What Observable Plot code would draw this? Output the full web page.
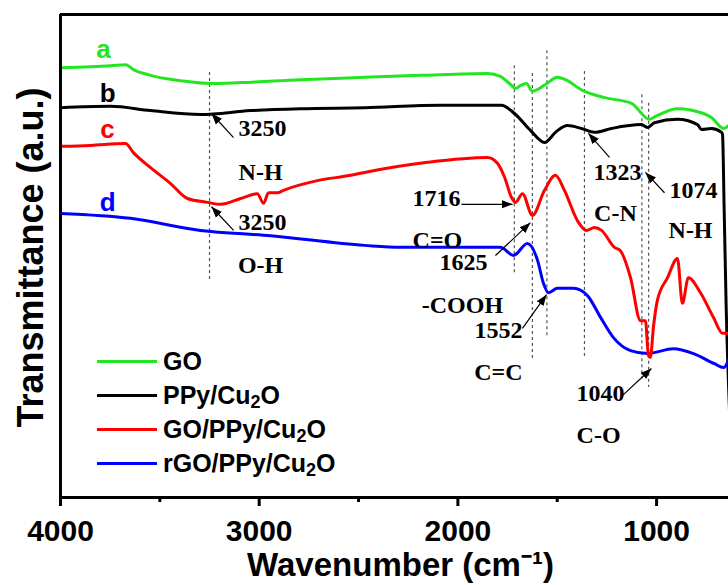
<!DOCTYPE html>
<html><head><meta charset="utf-8">
<script src="https://cdn.jsdelivr.net/npm/d3@7"></script>
<script src="https://cdn.jsdelivr.net/npm/@observablehq/plot@0.6"></script>
<style>
body{margin:0;background:#fff;}
#wrap{position:relative;width:728px;height:585px;}
#legend{position:absolute;left:97px;top:344px;font-family:"Liberation Sans",Arial,sans-serif;font-weight:bold;font-size:25px;color:#000;}
.row{display:flex;align-items:center;height:34px;white-space:nowrap;}
.sw{width:60px;height:3px;margin-right:6px;}
sub{font-size:0.72em;vertical-align:-0.22em;line-height:0;}
</style></head><body><div id="wrap"></div>
<script>
// ---- data (wavenumber cm^-1, transmittance a.u.) ----
const seriesNames = ["GO", "PPy/Cu2O", "GO/PPy/Cu2O", "rGO/PPy/Cu2O"];
const seriesLetters = ["a", "b", "c", "d"];

const specGO = [
  [4000,89.0],[3849,89.2],[3748,89.4],[3673,89.6],[3633,88.6],[3547,87.4],[3396,86.3],[3245,85.7],
  [3094,85.9],[2792,86.5],[2470,87.0],[2188,87.4],[1851,87.8],[1786,87.2],[1735,85.5],[1710,84.7],
  [1685,85.3],[1655,85.7],[1625,84.1],[1559,85.5],[1499,87.0],[1459,86.5],[1373,84.3],[1262,82.8],
  [1126,81.6],[1036,78.3],[996,79.1],[895,80.5],[764,79.5],[724,78.7],[663,76.4],[638,77.0]
];
const specPPy = [
  [4000,80.7],[3748,81.0],[3547,80.1],[3295,79.3],[3044,80.1],[2792,80.5],[2470,80.7],[2088,81.2],
  [1781,81.2],[1715,79.5],[1635,76.0],[1564,73.5],[1504,75.8],[1448,77.0],[1378,76.4],[1313,75.6],
  [1227,76.4],[1076,77.2],[1046,76.6],[1011,77.6],[895,78.3],[794,77.2],[774,76.2],[724,76.4],
  [673,75.6],[668,75.2],[660,60.0],[650,40.0],[630,15.0]
];
const specGOPPy = [
  [4000,72.7],[3849,72.9],[3673,73.3],[3633,71.4],[3547,68.3],[3446,65.0],[3361,61.9],[3260,61.1],
  [3195,60.7],[3094,61.9],[3009,62.9],[2978,60.9],[2953,63.1],[2908,63.1],[2878,63.6],[2707,65.6],
  [2541,66.7],[2470,67.3],[2153,69.4],[1851,70.4],[1801,69.2],[1765,66.3],[1730,62.1],[1710,61.1],
  [1675,62.9],[1625,58.4],[1564,63.6],[1509,66.7],[1464,63.6],[1398,57.3],[1353,55.3],[1313,55.9],
  [1277,55.3],[1212,51.8],[1182,51.1],[1131,45.5],[1081,36.6],[1056,36.6],[1041,29.4],[1031,29.0],
  [1016,35.2],[996,40.8],[945,45.5],[895,49.5],[870,40.2],[840,45.5],[779,42.4],[714,37.3],
  [668,34.0],[638,34.0]
];
const specRGO = [
  [4000,58.8],[3648,57.8],[3295,55.3],[2943,54.2],[2470,52.2],[2289,51.8],[1786,51.8],[1720,50.1],
  [1650,52.6],[1599,49.1],[1569,44.3],[1544,42.4],[1499,43.3],[1418,43.3],[1348,41.8],[1282,37.3],
  [1217,33.1],[1131,30.4],[1046,29.8],[915,30.8],[814,29.8],[709,27.7],[663,26.9],[638,28.4]
];

// marker lines: [wavenumber, from, to]
const dashLines = [[3250,88.0,44.5],[1716,89.4,46.0],[1625,87.8,28.8],[1552,92.5,33.5],
                   [1363,88.2,29.0],[1074,83.4,24.6],[1040,81.6,22.8]];

// peak annotations: [text, wavenumber, value]
const peakLabels = [
  ["3250",2983,76.4],["N-H",2993,67.3],["3250",2983,56.9],["O-H",2993,48.0],
  ["1716",2108,61.9],["C=O",2103,53.2],["1625",1972,48.7],["-COOH",1977,39.8],
  ["1552",1796,34.6],["C=C",1796,25.9],["1323",1197,67.3],["1074",814,63.6],
  ["C-N",1207,58.8],["N-H",829,55.3],["1040",1282,21.5],["C-O",1292,12.8]
];
// arrows: [fromWn, fromVal, toWn, toVal]
const peakArrows = [
  [3129,74.5,3240,79.5],[3129,55.3,3240,60.2],[1982,60.7,1725,60.7],[1811,50.1,1635,56.9],
  [1675,35.0,1554,42.0],[1237,70.4,1343,75.4],[960,63.1,1056,67.3],[1172,21.1,1026,26.7]
];
// curve letters: [letter index, wavenumber, value]
const letterPos = [[0,3784,90.9],[1,3763,81.8],[2,3763,74.5],[3,3763,59.4]];

const majorTicks = [4000, 3000, 2000, 1000];
const minorTicks = [3500, 2500, 1500];
const xDomain = [4000, 638];
const yDomain = [0, 100];

// ---- styles ----
const colors = ["#22e622", "#000000", "#ff0000", "#0000ff"];
const sans = "'Liberation Sans', Arial, Helvetica, sans-serif";
const serif = "'Liberation Serif', 'Times New Roman', serif";

const specs = [specGO, specPPy, specGOPPy, specRGO];
const drawOrder = [1, 0, 3, 2];

const chart = Plot.plot({
  width: 728, height: 585,
  marginLeft: 60, marginRight: 0, marginTop: 14, marginBottom: 88,
  x: {domain: xDomain, axis: null},
  y: {domain: yDomain, axis: null},
  style: {background: "white", fontFamily: sans},
  marks: [
    Plot.ruleX(dashLines, {x: d => d[0], y1: d => d[1], y2: d => d[2], stroke: "#555", strokeWidth: 1.2, strokeDasharray: "3,3"}),
    ...drawOrder.map(i => Plot.line(specs[i], {x: d => d[0], y: d => d[1], stroke: colors[i], strokeWidth: 3, strokeLinejoin: "round", curve: "monotone-x", clip: true})),
    Plot.link(peakArrows, {x1: d => d[0], y1: d => d[1], x2: d => d[2], y2: d => d[3], stroke: "black", strokeWidth: 1.2}),
    Plot.text(peakLabels, {x: d => d[1], y: d => d[2], text: d => d[0], fontFamily: serif, fontWeight: "bold", fontSize: 24, fill: "black", lineAnchor: "middle"}),
    Plot.text(letterPos, {x: d => d[1], y: d => d[2], text: d => seriesLetters[d[0]], fill: d => colors[d[0]], fontFamily: sans, fontWeight: "bold", fontSize: 26, lineAnchor: "bottom"}),
    Plot.ruleX([xDomain[0]], {stroke: "black", strokeWidth: 3}),
    Plot.ruleY(yDomain, {stroke: "black", strokeWidth: 3}),
    Plot.axisX({ticks: majorTicks, tickSize: 9, tickPadding: 13, strokeWidth: 3, tickFormat: "d", label: null, fontSize: 30, fontWeight: "bold", fontFamily: sans, fill: "black"}),
    Plot.axisX({ticks: minorTicks, tickSize: 5, strokeWidth: 3, text: null, label: null}),
    Plot.text(["Wavenumber (cm⁻¹)"], {frameAnchor: "bottom", lineAnchor: "bottom", textAnchor: "middle", dy: 78, dx: 6, fontSize: 33, fontWeight: "bold", fontFamily: sans, fill: "black"}),
    Plot.text(["Transmittance (a.u.)"], {frameAnchor: "left", rotate: -90, lineAnchor: "bottom", textAnchor: "middle", dx: -18, dy: 1.5, fontSize: 36, fontWeight: "bold", fontFamily: sans, fill: "black"})
  ]
});

// filled arrow heads
const svg = d3.select(chart);
svg.append("defs").append("marker")
  .attr("id", "ah").attr("viewBox", "0 0 10 10").attr("refX", 10).attr("refY", 5)
  .attr("markerWidth", 11).attr("markerHeight", 11).attr("markerUnits", "userSpaceOnUse").attr("orient", "auto")
  .append("path").attr("d", "M0,1.2L10,5L0,8.8Z").attr("fill", "black");
svg.selectAll('g[aria-label="link"] path').attr("marker-end", "url(#ah)");

const wrap = document.getElementById("wrap");
wrap.appendChild(chart);

// legend
const legend = document.createElement("div");
legend.id = "legend";
seriesNames.forEach((name, i) => {
  const row = document.createElement("div");
  row.className = "row";
  const sw = document.createElement("div");
  sw.className = "sw";
  sw.style.background = colors[i];
  const lab = document.createElement("span");
  lab.innerHTML = name.replace(/Cu2O/g, "Cu<sub>2</sub>O");
  row.appendChild(sw); row.appendChild(lab);
  legend.appendChild(row);
});
wrap.appendChild(legend);
</script></body></html>
